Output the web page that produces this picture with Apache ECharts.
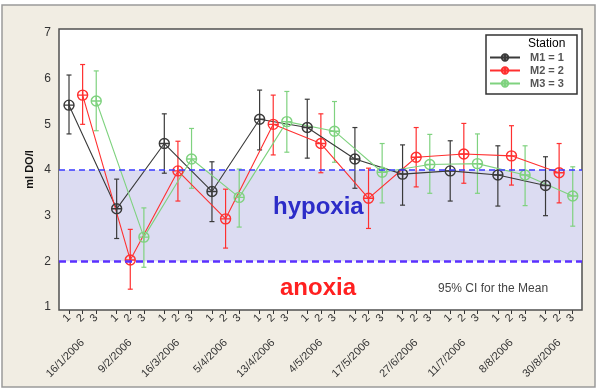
<!DOCTYPE html>
<html><head><meta charset="utf-8">
<script src="https://cdn.jsdelivr.net/npm/echarts@6/dist/echarts.min.js"></script>
<style>html,body{margin:0;padding:0;background:#fff}#c{width:600px;height:391px}</style>
</head><body><div id="c"></div>
<script>
var dates = ['16/1/2006','9/2/2006','16/3/2006','5/4/2006','13/4/2006','4/5/2006','17/5/2006','27/6/2006','11/7/2006','8/8/2006','30/8/2006'];
var stationLabels = ['1','2','3'];
var stationNames = ['M1 = 1','M2 = 2','M3 = 3'];
var m1Mean = [5.42,3.15,4.58,3.53,5.11,4.93,4.24,3.91,3.98,3.89,3.66];
var m1Lo   = [4.79,2.50,3.93,2.87,4.44,4.26,3.60,3.23,3.32,3.21,3.00];
var m1Hi   = [6.08,3.80,5.23,4.18,5.75,5.55,4.93,4.55,4.64,4.53,4.29];
var m2Mean = [5.64,2.03,3.98,2.93,5.00,4.58,3.38,4.28,4.35,4.31,3.94];
var m2Lo   = [5.00,1.39,3.32,2.29,4.33,3.94,2.72,3.63,3.71,3.67,3.28];
var m2Hi   = [6.31,2.70,4.63,3.58,5.64,5.23,4.04,4.93,5.02,4.97,4.58];
var m3Mean = [5.51,2.53,4.24,3.40,5.06,4.85,3.95,4.12,4.14,3.89,3.43];
var m3Lo   = [4.86,1.87,3.60,2.75,4.39,4.17,3.28,3.49,3.49,3.22,2.77];
var m3Hi   = [6.17,3.17,4.91,4.02,5.72,5.50,4.58,4.78,4.79,4.53,4.07];
var yTicks = [1,2,3,4,5,6,7];
var hypoxiaTop = 4, anoxiaTop = 2;

var GROUP = 3.5;
var colors = ['#3a3a3a','#ff3030','#7fd27f'];
var means = [m1Mean,m2Mean,m3Mean], los=[m1Lo,m2Lo,m3Lo], his=[m1Hi,m2Hi,m3Hi];
function pos(g,s){return g*GROUP+s;}
var tickVals=[], tickMap={}, dateVals=[], dateMap={};
dates.forEach(function(d,g){
  for(var s=0;s<3;s++){var v=pos(g,s);tickVals.push(v);tickMap[v.toFixed(2)]=stationLabels[s];}
  var c=pos(g,1);dateVals.push(c);dateMap[c.toFixed(2)]=d;
});
var sym='path://M11,6A5,5,0,1,1,1,6A5,5,0,1,1,11,6ZM1,6L11,6M6,1L6,11';
var FONT='Arial, "Liberation Sans", sans-serif';
var series=[];
for(var s=0;s<3;s++){
  (function(s){
    var lineData=dates.map(function(d,g){return [pos(g,s),means[s][g]];});
    var barData=dates.map(function(d,g){return [pos(g,s),los[s][g],his[s][g]];});
    series.push({
      type:'custom', name:stationNames[s]+'_ci', data:barData, z:3, silent:true,
      encode:{x:0,y:[1,2]},
      renderItem:function(params,api){
        var x=api.value(0), a=api.coord([x,api.value(1)]), b=api.coord([x,api.value(2)]);
        var st={stroke:colors[s],lineWidth:1.2};
        return {type:'group',children:[
          {type:'line',shape:{x1:a[0],y1:a[1],x2:b[0],y2:b[1]},style:st},
          {type:'line',shape:{x1:a[0]-2.5,y1:a[1],x2:a[0]+2.5,y2:a[1]},style:st},
          {type:'line',shape:{x1:b[0]-2.5,y1:b[1],x2:b[0]+2.5,y2:b[1]},style:st}
        ]};
      }
    });
    var ser={
      type:'line', name:stationNames[s], data:lineData, z:4,
      symbol:sym, symbolSize:10, showSymbol:true,
      lineStyle:{color:colors[s],width:1.1},
      itemStyle:{color:'rgba(255,255,255,0)',borderColor:colors[s],borderWidth:1.4}
    };
    if(s===0){
      ser.markArea={silent:true,itemStyle:{color:'#dcdcf2'},data:[[{yAxis:anoxiaTop},{yAxis:hypoxiaTop}]]};
      ser.markLine={silent:true,symbol:'none',label:{show:false},data:[
        {yAxis:hypoxiaTop,lineStyle:{color:'#3a3aff',type:[6,4],width:1.5}},
        {yAxis:anoxiaTop,lineStyle:{color:'#5a30ff',type:[7,4],width:2.5}}
      ]};
    }
    series.push(ser);
  })(s);
}
var chart=echarts.init(document.getElementById('c'),null,{renderer:'canvas'});
chart.setOption({
  animation:false,
  backgroundColor:'#ffffff',
  textStyle:{fontFamily:FONT},
  grid:{left:59,right:18,top:29,bottom:81,show:true,backgroundColor:'#ffffff',borderColor:'#505050',borderWidth:1.5,z:1},
  xAxis:[{
    type:'value',min:-0.735,max:37.68,
    axisLine:{show:false},splitLine:{show:false},
    axisTick:{show:true,customValues:tickVals,length:4,lineStyle:{color:'#333'}},
    axisLabel:{show:true,customValues:tickVals,rotate:45,margin:6,fontSize:11,color:'#333',fontFamily:FONT,
      formatter:function(v){return tickMap[(+v).toFixed(2)]||'';}}
  },{
    type:'value',min:-0.735,max:37.68,position:'bottom',
    axisLine:{show:false},splitLine:{show:false},axisTick:{show:false},
    axisLabel:{show:true,customValues:dateVals,rotate:45,margin:31,fontSize:11,color:'#333',fontFamily:FONT,
      formatter:function(v){return dateMap[(+v).toFixed(2)]||'';}}
  }],
  yAxis:{
    type:'value',min:0.934,max:7.088,
    name:'ml DO/l',nameLocation:'middle',nameRotate:90,nameGap:24,nameMoveOverlap:false,
    nameTextStyle:{fontSize:11,fontWeight:'bold',color:'#111',fontFamily:FONT},
    axisLine:{show:false},splitLine:{show:false},
    axisTick:{show:true,customValues:yTicks,length:4,lineStyle:{color:'#333'}},
    axisLabel:{show:true,customValues:yTicks,margin:8,fontSize:12,color:'#333',fontFamily:FONT}
  },
  legend:{
    z:100,
    orient:'vertical',left:489,top:51,itemWidth:30,itemHeight:8,itemGap:0,padding:[0,5,0,0],
    data:stationNames,
    textStyle:{fontSize:11,color:'#555',fontWeight:'bold',fontFamily:FONT,padding:[0,0,0,5],lineHeight:13}
  },
  graphic:[
    {type:'rect',z:-100,shape:{x:2,y:5,width:593,height:382},style:{fill:'#f1ede3',stroke:'#9a9a9a',lineWidth:1.5}},
    {type:'rect',z:5,shape:{x:486,y:35,width:91,height:59},style:{fill:'#ffffff',stroke:'#333',lineWidth:1.5}},
    {type:'text',z:51,left:528,top:38,style:{text:'Station',font:'12px '+FONT,fill:'#000'}},
    {type:'text',z:51,left:273,top:195,style:{text:'hypoxia',font:'bold 24px '+FONT,fill:'#2c2cc8'}},
    {type:'text',z:51,left:280,top:276,style:{text:'anoxia',font:'bold 24px '+FONT,fill:'#ff2020'}},
    {type:'text',z:51,left:438,top:283,style:{text:'95% CI for the Mean',font:'12px '+FONT,fill:'#444'}}
  ],
  series:series
});
</script></body></html>
